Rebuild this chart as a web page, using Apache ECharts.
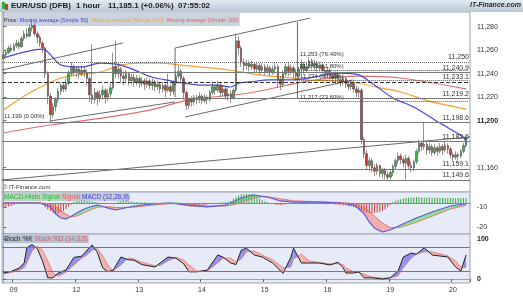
<!DOCTYPE html>
<html><head><meta charset="utf-8">
<script src="https://cdn.jsdelivr.net/npm/echarts@6/dist/echarts.min.js"></script>
<style>html,body{margin:0;padding:0;background:#fff}#c{width:523px;height:296px}</style>
</head><body><div id="c"></div>
<script>
// ---------- time axis ----------
const days = ['08','09','12','13','14','15','16','19','20'];
const firstHour = 20, lastHour = 6;
// ---------- price candles (open of bar i = close of bar i-1) ----------
const open0 = 11253;
const close = [
11256,11258,11262,11260,11264,11266,11263,11270,11274,11272,
11279,11281,11274,11271,11266,11262,11240,11221,11205,11212,
11218,11225,11230,11227,11232,11240,11246,11241,11244,11240,
11243,11241,11236,11222,11218,11224,11219,11222,11226,11220,
11223,11228,11246,11240,11244,11238,11236,11240,11234,11237,
11233,11236,11232,11234,11231,11234,11230,11233,11229,11231,
11227,11230,11226,11229,11225,11232,11238,11242,11236,11224,
11213,11218,11216,11220,11218,11221,11217,11220,11218,11224,
11229,11226,11230,11224,11227,11221,11223,11219,11226,11268,
11262,11250,11247,11249,11246,11248,11244,11247,11243,11246,
11242,11245,11241,11244,11246,11235,11231,11240,11246,11242,
11245,11241,11238,11244,11248,11243,11246,11251,11247,11249,
11245,11247,11243,11240,11243,11238,11236,11239,11235,11233,
11236,11231,11229,11232,11227,11224,11226,11184,11172,11162,
11166,11160,11157,11162,11155,11158,11154,11152,11156,11161,
11166,11170,11167,11164,11168,11162,11160,11165,11174,11181,
11178,11180,11175,11178,11173,11177,11174,11178,11175,11179,
11176,11171,11169,11171,11170,11174,11179,11185.1];
const high = [
11259,11261,11264,11265,11266,11269,11268,11272,11277,11278,
11282,11286,11283,11276,11273,11268,11263,11242,11224,11215,
11220,11228,11232,11233,11236,11243,11250,11248,11246,11246,
11247,11246,11244,11238,11265,11228,11226,11226,11230,11228,
11227,11232,11258,11268,11250,11246,11242,11243,11241,11240,
11240,11239,11238,11237,11236,11237,11236,11236,11235,11234,
11233,11233,11232,11240,11231,11234,11242,11247,11244,11238,
11226,11220,11221,11222,11222,11224,11223,11223,11222,11226,
11232,11231,11234,11232,11230,11229,11228,11226,11228,11274,
11272,11264,11253,11252,11251,11251,11250,11250,11249,11249,
11248,11248,11247,11247,11249,11248,11238,11243,11249,11250,
11248,11247,11244,11246,11252,11250,11249,11254,11253,11252,
11251,11250,11249,11246,11246,11245,11241,11242,11241,11238,
11238,11237,11234,11235,11234,11230,11229,11228,11186,11175,
11169,11168,11163,11164,11163,11160,11160,11157,11158,11163,
11168,11173,11172,11169,11171,11170,11165,11167,11176,11184,
11183,11198.6,11182,11181,11180,11180,11179,11181,11180,11182,
11181,11178,11173,11174,11173,11176,11181,11187];
const low = [
11252,11254,11257,11258,11259,11262,11261,11262,11268,11270,
11271,11276,11272,11266,11263,11258,11236,11214,11199,11202,
11208,11215,11222,11224,11225,11230,11238,11238,11237,11236,
11238,11237,11230,11216,11214,11215,11213,11216,11218,11215,
11217,11220,11226,11236,11236,11232,11230,11233,11230,11231,
11229,11230,11228,11229,11226,11228,11227,11226,11225,11226,
11223,11224,11220,11224,11221,11222,11230,11236,11232,11218,
11209,11210,11212,11213,11214,11215,11214,11215,11214,11216,
11222,11222,11224,11220,11221,11218,11217,11215,11218,11224,
11256,11246,11242,11244,11242,11243,11241,11241,11239,11241,
11239,11240,11238,11239,11240,11228,11226,11229,11238,11238,
11239,11236,11234,11236,11240,11240,11241,11244,11244,11243,
11242,11242,11240,11236,11237,11235,11232,11233,11231,11229,
11230,11228,11226,11226,11224,11220,11219,11180,11168,11158,
11157,11156,11153,11154,11152,11151,11150,11149.6,11150,11153,
11158,11163,11163,11160,11150,11159,11156,11157,11163,11172,
11174,11175,11171,11172,11170,11171,11170,11172,11171,11173,
11172,11168,11166,11167,11166,11168,11172,11177];
// ---------- moving averages: [bar index, value] ----------
const sma50Idx = [0,15,22,30,37,45,52,57,64,69,75,82,87,90,94,102,110,117,129,136,141,149,157,167,176,177];
const sma50Val = [11253.4,11261,11247.4,11245.7,11249,11247.4,11241.5,11237,11234,11232,11230.4,11230.4,11228.7,11232,11233,11234.7,11234.7,11236.4,11240.6,11239,11232,11219.4,11211.7,11198,11186,11180.6];
const sma100Idx = [0,10,22,37,45,52,60,68,87,98,110,117,133,144,152,164,177];
const sma100Val = [11209,11223.6,11236.4,11241.5,11247.4,11249,11249,11247.4,11243,11239,11236.4,11234.7,11233,11228,11224.5,11216,11209.9];
const sma200Idx = [0,18,37,56,71,94,117,136,152,177];
const sma200Val = [11189.6,11196.4,11202,11209,11217.7,11223.6,11234,11238,11236.4,11227.1];
// ---------- horizontal levels ----------
const levels = [11240.9,11233.1,11219.2,11198.6,11182.6,11159.1,11149.6];
const dottedLevel = 11250;
// ---------- Fibonacci retracement ----------
const fibStartIdx = 113;
const fibPct = [76.4, 61.8, 50.0, 23.6];
const fibVal = [11253, 11242.7, 11234.3, 11216.5];
const fibZero = 11199;
// ---------- drawn trend lines: [startIdx, startPrice, endIdx, endPrice] ----------
const trendLines = [
 [-0.5,11243.2,45.8,11266.2],
 [17.9,11199.8,65.7,11216.0],
 [65.7,11261.9,117.3,11287.4],
 [69.5,11203.2,133.7,11234.7],
 [65.7,11261.9,65.7,11220.2],
 [112.5,11284,112.5,11219.4],
 [-0.5,11149.6,178.5,11186.2]
];
// ---------- last values ----------
const lastPrice = 11185.1, lastSma50 = 11180.6, lastSma100 = 11209.9, lastSma200 = 11227.1;
const priceTicks = [11160,11200,11220,11240,11260,11280];
// ---------- MACD ----------
const macdIdx = [0,14,18,20,22,24,26,28,31,33,36,40,43,50,57,64,70,78,85,88,91,95,98,101,106,111,121,129,134,136,138,140,142,145,148,152,158,164,171,177];
const macdVal = [0,0,-3.3,-9,-12.5,-13.3,-11,-8.3,-5,-3.3,-1.7,-4.2,-5.8,-2.5,-0.8,0,-1.7,-3.3,-1.7,1,4.2,6.7,6,5,1.7,0.8,0.8,0,-1.7,-5,-9,-16,-21,-24.2,-22.5,-18.3,-12.5,-7.5,-2.5,-0.6386];
const signalVal = [0.3,0.2,-0.8,-3,-6,-9.5,-11.5,-11,-8,-6,-3.5,-3,-3.8,-3.5,-1.8,-0.5,-0.8,-2.5,-2.5,-1.5,0.5,3.5,5,5.3,3.5,1.8,1,0.4,-0.5,-1.5,-3.5,-7,-11,-16.5,-20.5,-20.3,-16,-11,-5,-1.9967];
const histVal = [
-1.1,-1.2,-1.0,-0.9,-0.6,-0.3,
0.1,0.2,0.3,0.3,0.2,0.2,0.1,0,-0.2,-0.5,
-1.2,-1.8,-2.3,-2.7,-2.9,-2.8,-2.6,-2.2,-1.7,-1.1,-0.5,
0.3,0.5,0.6,0.7,0.7,0.6,0.5,0.4,0.3,0.2,
-0.1,-0.2,-0.3,-0.3,-0.3,-0.2,-0.1,
0.4,0.6,0.7,0.6,0.5,
0.4,0.3,0.3,0.2,0.2,0.2,0.1,0.1,0.1,0.1,0,0,0.1,0.1,0.2,0.2,
0.3,0.3,0.2,0.1,
-0.4,-0.7,-0.9,-1.0,-1.1,-1.1,-1.0,-0.8,-0.6,-0.4,
-0.3,-0.1,0,0.1,0.1,0.2,0.3,0.4,0.6,
1.2,1.8,2.2,2.5,2.6,2.6,2.5,2.3,2.0,1.6,1.2,0.8,
0.5,0.2,0,-0.2,
-0.5,-0.6,-0.6,-0.5,-0.4,-0.3,-0.2,
-0.1,0,0.1,0.2,0.2,0.3,0.3,0.2,0.2,0.1,0.1,0,0,-0.1,-0.2,-0.3,-0.4,
-0.5,-0.6,-0.7,-0.8,-0.9,-1.0,-1.2,-1.4,-1.7,-2.0,-2.4,-2.7,-2.9,-2.9,-2.8,-2.7,-2.5,-2.2,-1.8,-1.2,-0.6,
0.2,0.6,0.9,1.1,1.3,1.4,1.5,1.6,1.6,1.7,1.7,1.6,1.6,1.6,1.5,1.5,1.5,1.5,1.5,1.4,1.4,1.4,1.4,1.4,1.4,1.4,1.4,1.45,1.4518];
const macdTicks = [-10,-20];
// ---------- Stochastic ----------
const stochIdx = [0,3,6,8,9,11,13,15,17,19,21,24,27,30,32,34,36,38,40,42,45,47,48,50,53,58,60,63,66,69,71,74,78,82,84,87,89,91,93,96,99,103,107,110,111,114,117,121,125,128,130,131,134,136,138,141,145,148,151,153,156,158,161,164,170,173,175,176,177];
const stochK = [15,19,27,40,78,86,76,45,3,3,15,23,54,57,72,85,66,28,18,22,55,50,48,47,36,30,40,55,52,38,18,18,22,60,55,40,36,72,77,60,55,40,14,55,77,40,40,40,35,42,28,15,15,18,3,3,0,3,20,55,65,62,78,60,55,30,20,40,59.947];
const stochD = [13,16,22,28,40,70,82,72,45,15,7,17,35,52,60,72,76,58,35,20,35,48,52,50,42,33,34,45,54,48,35,20,20,40,52,52,42,50,68,70,60,48,28,30,50,62,45,41,38,38,36,28,18,16,12,5,2,2,8,28,52,62,68,68,58,45,30,28,29.371];
const stochTicks = [0,100];
const stochBands = [80,20];

// ---------- build ----------
const categories = [];
days.forEach((d,k)=>{const h0=k===0?firstHour:0,h1=k===days.length-1?lastHour:23;for(let h=h0;h<=h1;h++)categories.push(d+' '+String(h).padStart(2,'0'));});
const N = categories.length;
const candles = close.map((c,i)=>[i===0?open0:close[i-1], c, low[i], high[i]]);
const pairs = (ix,v)=>ix.map((x,k)=>[x,v[k]]);
const fmt = v => v.toLocaleString('en-US',{minimumFractionDigits:0,maximumFractionDigits:4});
const fmt1 = v => v.toLocaleString('en-US',{minimumFractionDigits:1,maximumFractionDigits:1});
const FONT = 'Liberation Sans, Arial, sans-serif';
const isDayStart = (i,v)=>/ 00$/.test(v);

function bandFill(idx, a, b, xAxisIndex, yAxisIndex, upColor, dnColor){
  const data = [];
  for(let k=0;k<idx.length-1;k++) data.push([idx[k],a[k],b[k],idx[k+1],a[k+1],b[k+1]]);
  return {type:'custom', xAxisIndex, yAxisIndex, silent:true, clip:true, data,
    encode:{x:[0,3], y:[1,2,4,5]},
    renderItem:(params, api)=>{
      const x0=api.value(0),a0=api.value(1),b0=api.value(2),x1=api.value(3),a1=api.value(4),b1=api.value(5);
      const d0=a0-b0, d1=a1-b1, P=(x,y)=>api.coord([x,y]);
      const polys=[];
      if(d0*d1>=0){polys.push({pts:[P(x0,a0),P(x1,a1),P(x1,b1),P(x0,b0)], up:(d0+d1)>=0});}
      else{const t=d0/(d0-d1), xc=x0+t*(x1-x0), yc=a0+t*(a1-a0);
        polys.push({pts:[P(x0,a0),P(xc,yc),P(x0,b0)], up:d0>0});
        polys.push({pts:[P(xc,yc),P(x1,a1),P(x1,b1)], up:d1>0});}
      return {type:'group', children:polys.map(p=>({type:'polygon', shape:{points:p.pts}, style:{fill:p.up?upColor:dnColor}}))};
    }};
}

const GL = 2, GW = 468;
const grids = [
  {left:GL, width:GW, top:12, height:180, show:true, backgroundColor:'#ffffff', borderColor:'#9aa4b0', borderWidth:1},
  {left:GL, width:GW, top:192, height:42, show:true, backgroundColor:'#e6ebf7', borderColor:'#9aa4b0', borderWidth:1},
  {left:GL, width:GW, top:234, height:49, show:true, backgroundColor:'#e6ebf7', borderColor:'#9aa4b0', borderWidth:1}
];
const catAxis = (g, showLabels)=>({type:'category', gridIndex:g, data:categories, boundaryGap:true,
  axisLine:{show:showLabels, lineStyle:{color:'#9aa4b0'}},
  axisTick:{show:showLabels, interval:isDayStart, length:3, lineStyle:{color:'#666'}},
  axisLabel:{show:showLabels, interval:isDayStart, formatter:v=>v.slice(0,2), fontSize:7, color:'#333', fontFamily:FONT, margin:4},
  splitLine:{show:false}});
const valX = g=>({type:'value', gridIndex:g, min:-0.5, max:N-0.5, show:false});

const lvlLine = (v, style, txt)=>({yAxis:v, lineStyle:style, label:{show:true, position:'insideEndTop', formatter:txt||fmt1(v), color:'#333', fontSize:7, fontFamily:FONT, distance:[1,1]}});
const boxLine = (v, txt, color, bg, border, dy)=>({yAxis:v, lineStyle:{opacity:0}, label:{show:true, position:'end', formatter:txt, color, backgroundColor:bg, borderColor:border, borderWidth:1, padding:[1,2,0,2], fontSize:7, fontFamily:FONT, distance:6, offset:[0,dy||0]}});
const valBox = (v, color, bg, border, dy)=>({show:true, position:'end', formatter:fmt(v), color, backgroundColor:bg, borderColor:border, borderWidth:1, padding:[1,2,0,2], fontSize:7, fontFamily:FONT, distance:6, offset:[0,dy||0]});
const fibLine = (k)=>[
  {coord:[categories[fibStartIdx], fibVal[k]], lineStyle:{color:k===0?'rgba(0,0,0,0)':'#555', type:'dotted', width:1},
   label:{show:true, position:'insideStartTop', formatter:fmt(Math.round(fibVal[k]))+' ('+fibPct[k].toFixed(2)+'%)', color:'#333', fontSize:6, fontFamily:FONT, distance:[1,1]}},
  {coord:[categories[N-1], fibVal[k]]}
];

const option = {
  animation:false,
  backgroundColor:'#ffffff',
  grid:grids,
  xAxis:[catAxis(0,false), catAxis(1,false), catAxis(2,true), valX(0), valX(1), valX(2)],
  yAxis:[
    {type:'value', gridIndex:0, position:'right', min:11139.36, max:11292.55,
     axisLine:{show:true, lineStyle:{color:'#9aa4b0'}}, axisTick:{show:true, customValues:priceTicks, length:3, lineStyle:{color:'#666'}},
     splitLine:{show:false},
     axisLabel:{customValues:priceTicks, fontSize:7, fontFamily:FONT, color:'#333', margin:7,
       formatter:v=>v===11200?'{b|'+fmt(v)+'}':fmt(v), rich:{b:{fontWeight:'bold', fontSize:7, fontFamily:FONT, color:'#222'}}}},
    {type:'value', gridIndex:1, position:'right', min:-23.17, max:-2.68,
     axisLine:{show:true, lineStyle:{color:'#9aa4b0'}}, axisTick:{show:true, customValues:macdTicks, length:3, lineStyle:{color:'#666'}},
     splitLine:{show:false}, axisLabel:{customValues:macdTicks, fontSize:7, fontFamily:FONT, color:'#333', margin:7}},
    {type:'value', gridIndex:1, min:-25.83, max:9.17, show:false},
    {type:'value', gridIndex:1, min:-8.86, max:3.14, show:false},
    {type:'value', gridIndex:2, position:'right', min:-10, max:112.5,
     axisLine:{show:true, lineStyle:{color:'#9aa4b0'}}, axisTick:{show:true, customValues:stochTicks, length:3, lineStyle:{color:'#666'}},
     splitLine:{show:false}, axisLabel:{customValues:stochTicks, fontSize:7, fontWeight:'bold', fontFamily:FONT, color:'#222', margin:7}}
  ],
  series:[
    {type:'line', xAxisIndex:3, yAxisIndex:0, data:pairs(sma200Idx,sma200Val), symbol:'none', smooth:0.3, lineStyle:{color:'#e07070', width:1.2}, silent:true, z:1},
    {type:'line', xAxisIndex:3, yAxisIndex:0, data:pairs(sma100Idx,sma100Val), symbol:'none', smooth:0.3, lineStyle:{color:'#f5a030', width:1.2}, silent:true, z:1},
    {type:'line', xAxisIndex:3, yAxisIndex:0, data:pairs(sma50Idx,sma50Val), symbol:'none', smooth:0.3, lineStyle:{color:'#4646d8', width:1.2}, silent:true, z:1},
    ...trendLines.map(t=>({type:'line', xAxisIndex:3, yAxisIndex:0, data:[[t[0],t[1]],[t[2],t[3]]], symbol:'none', lineStyle:{color:'#444', width:0.8}, silent:true, z:1})),
    {type:'candlestick', xAxisIndex:0, yAxisIndex:0, data:candles, barWidth:2, z:3,
     itemStyle:{color:'#3cb64a', color0:'#d0382c', borderColor:'#4a4a4a', borderColor0:'#4a4a4a', borderWidth:0.6},
     markLine:{symbol:'none', silent:true, animation:false, z:4,
       data:[
         lvlLine(dottedLevel, {color:'#666', type:'dotted', width:1}, fmt(dottedLevel)),
         lvlLine(levels[0], {color:'#777', type:'solid', width:1}),
         lvlLine(levels[1], {color:'#333', type:'dashed', width:1}),
         lvlLine(levels[2], {color:'#777', type:'solid', width:1}),
         lvlLine(levels[3], {color:'#777', type:'solid', width:1}),
         lvlLine(levels[4], {color:'#777', type:'solid', width:1}),
         lvlLine(levels[5], {color:'#777', type:'solid', width:1}),
         lvlLine(levels[6], {color:'#777', type:'solid', width:1}),
         ...fibPct.map((p,k)=>fibLine(k)),
         boxLine(lastSma200, fmt1(lastSma200), '#e06666', '#fdeaea', '#e08a8a'),
         boxLine(lastSma100, fmt1(lastSma100), '#f0a030', '#fff4e2', '#f0b060'),
         boxLine(lastPrice, fmt1(lastPrice), '#333', '#f4a934', '#e09020', -1),
         boxLine(lastSma50, fmt1(lastSma50), '#4b4bd8', '#eef0ff', '#8a8ae8', 2)
       ]}},
    // MACD
    bandFill(macdIdx, macdVal, signalVal, 4, 2, '#8ee492', '#f3aaaa'),
    {type:'bar', xAxisIndex:1, yAxisIndex:3, data:histVal, barWidth:1, silent:true,
     itemStyle:{color:p=>p.value>=0?'#2fae3a':'#c83a30'},
     markLine:{symbol:'none', silent:true, data:[
       {yAxis:histVal[histVal.length-1], lineStyle:{opacity:0}, label:valBox(histVal[histVal.length-1], '#2fae3a', '#e9f8ea', '#7fcf85', -8)}
     ]}},
    {type:'line', xAxisIndex:4, yAxisIndex:2, data:pairs(macdIdx,signalVal), symbol:'none', lineStyle:{color:'#e07a7a', width:1}, silent:true,
     markLine:{symbol:'none', silent:true, data:[
       {yAxis:signalVal[signalVal.length-1], lineStyle:{opacity:0}, label:valBox(signalVal[signalVal.length-1], '#e06666', '#fdeaea', '#e08a8a', 1)}
     ]}},
    {type:'line', xAxisIndex:4, yAxisIndex:2, data:pairs(macdIdx,macdVal), symbol:'none', lineStyle:{color:'#5a5ae0', width:1.2}, silent:true,
     markLine:{symbol:'none', silent:true, data:[
       {yAxis:0, lineStyle:{color:'#7a7ae8', type:'solid', width:1}, label:{show:false}},
       {yAxis:macdVal[macdVal.length-1], lineStyle:{opacity:0}, label:valBox(macdVal[macdVal.length-1], '#4b4bd8', '#eef0ff', '#8a8ae8', -3)}
     ]}},
    // Stochastic
    bandFill(stochIdx, stochK, stochD, 5, 4, '#8f8ff0', '#f2b0b0'),
    {type:'line', xAxisIndex:5, yAxisIndex:4, data:pairs(stochIdx,stochD), symbol:'none', lineStyle:{color:'#e08a8a', width:1}, silent:true,
     markLine:{symbol:'none', silent:true, data:[
       {yAxis:stochD[stochD.length-1], lineStyle:{opacity:0}, label:valBox(stochD[stochD.length-1], '#e06666', '#fdeaea', '#e08a8a', 0)}
     ]}},
    {type:'line', xAxisIndex:5, yAxisIndex:4, data:pairs(stochIdx,stochK), symbol:'none', lineStyle:{color:'#222', width:1}, silent:true,
     markLine:{symbol:'none', silent:true, data:[
       ...stochBands.map(b=>({yAxis:b, lineStyle:{color:'#6a6ae6', type:'solid', width:1}, label:{show:false}})),
       {yAxis:stochK[stochK.length-1], lineStyle:{opacity:0}, label:valBox(stochK[stochK.length-1], '#333', '#eef2f6', '#8a9ab0', 0)}
     ]}}
  ],
  graphic:[
    {type:'rect', left:0, top:0, shape:{width:523, height:12}, style:{fill:new echarts.graphic.LinearGradient(0,0,0,1,[{offset:0,color:'#e4ebf1'},{offset:1,color:'#b7c7d5'}])}, silent:true},
    {type:'rect', left:2, top:2, shape:{width:3, height:7}, style:{fill:'#2fae3a'}},
    {type:'rect', left:5, top:4, shape:{width:3, height:6}, style:{fill:'#d23a2e'}},
    {type:'text', left:11, top:2, style:{text:'EUR/USD (DFB)', font:'bold 8px '+FONT, fill:'#1d1d1d'}},
    {type:'text', left:76, top:2, style:{text:'1 hour', font:'bold 8px '+FONT, fill:'#1d1d1d'}},
    {type:'text', left:108, top:2, style:{text:'11,185.1 (+0.06%)', font:'bold 8px '+FONT, fill:'#1d1d1d'}},
    {type:'text', left:178, top:2, style:{text:'07:55:02', font:'bold 8px '+FONT, fill:'#1d1d1d'}},
    {type:'text', right:2, top:2, style:{text:'IT-Finance.com', font:'italic bold 7px '+FONT, fill:'#2a2a2a'}},
    {type:'text', left:3, top:13, style:{
      text:'{k|Price: }{b|Moving average (Simple 50)} {o|Moving average (Simple 100)} {r|Moving average (Simple 200)}',
      backgroundColor:'rgba(160,175,195,0.55)', padding:[1,1,0,1],
      rich:{k:{fill:'#333', font:'5.5px '+FONT}, b:{fill:'#3d3dd0', font:'5.5px '+FONT}, o:{fill:'#f0a030', font:'5.5px '+FONT}, r:{fill:'#e06060', font:'5.5px '+FONT}}}},
    {type:'text', left:3, top:184, style:{text:'© IT-Finance.com', font:'6px '+FONT, fill:'#333'}},
    {type:'text', left:3, top:193, style:{
      text:'{g|MACD-Histo Signal}{r|Signal}{b|MACD (12,26,9)}',
      rich:{g:{fill:'#2fae3a', font:'6.5px '+FONT, backgroundColor:'rgba(150,200,150,0.6)', padding:[1,1,0,1]}, r:{fill:'#e06060', font:'6.5px '+FONT, backgroundColor:'rgba(170,170,180,0.6)', padding:[1,1,0,1]}, b:{fill:'#3d3dd0', font:'6.5px '+FONT, backgroundColor:'rgba(170,180,210,0.6)', padding:[1,1,0,1]}}}},
    {type:'text', left:3, top:235, style:{
      text:'{k|Stoch %K}{r|Stoch %D (14,3,5)}',
      rich:{k:{fill:'#222', font:'6.5px '+FONT, backgroundColor:'rgba(150,165,185,0.6)', padding:[1,1,0,1]}, r:{fill:'#e06060', font:'6.5px '+FONT, backgroundColor:'rgba(150,165,185,0.6)', padding:[1,1,0,1]}}}},
    {type:'text', left:4, top:113, style:{text:fmt(fibZero)+' (0.00%)', font:'6px '+FONT, fill:'#333'}}
  ]
};
const chart = echarts.init(document.getElementById('c'), null, {renderer:'canvas'});
chart.setOption(option);
</script></body></html>
